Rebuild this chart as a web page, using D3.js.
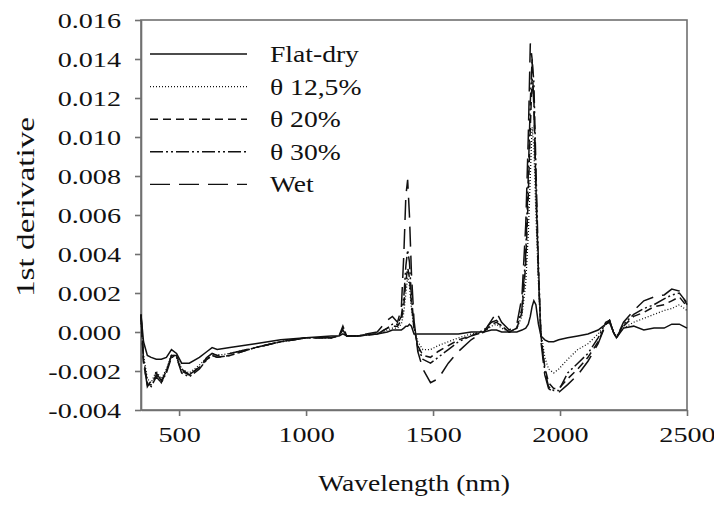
<!DOCTYPE html>
<html lang="en">
<head>
<meta charset="UTF-8" />
<title>1st derivative spectra</title>
<script src="https://cdn.jsdelivr.net/npm/d3@7/dist/d3.min.js"></script>
<style>
  body { margin: 0; background: #fff; }
  svg text { font-family: "Liberation Serif", "Times New Roman", serif; fill: #111; }
</style>
</head>
<body>
<svg id="chart"></svg>
<script>
// wavelength grid (nm) shared by all series
var wavelength = [350, 360, 375, 390, 410, 430, 450, 470, 490, 510, 540, 580, 610, 630, 650, 700, 800, 900, 1000,
  1100, 1130, 1145, 1160, 1200, 1280, 1320, 1340, 1360, 1375, 1385, 1393, 1400, 1407, 1415, 1425, 1440, 1460,
  1490, 1520, 1560, 1600, 1650, 1700, 1730, 1750, 1770, 1800, 1830, 1850, 1865, 1875, 1883, 1890, 1897, 1905,
  1915, 1925, 1940, 1955, 1975, 1995, 2030, 2070, 2110, 2150, 2180, 2195, 2210, 2222, 2250, 2290, 2330, 2370,
  2410, 2440, 2470, 2500];

var flatDry = [0.0009, -0.0005, -0.0012, -0.0013, -0.0014, -0.0014, -0.0013, -0.0009, -0.0011, -0.0016, -0.0016,
  -0.0013, -0.0010, -0.0008, -0.0009, -0.0008, -0.0006, -0.0004, -0.0003, -0.0002, -0.0002, -0.0001, -0.0002,
  -0.0002, -0.0001, 0.0000, 0.0001, 0.0001, 0.0001, 0.0002, 0.0003, 0.0003, 0.0004, 0.0003, -0.0001, -0.0001,
  -0.0001, -0.0001, -0.0001, -0.0001, -0.0001, 0.0000, 0.0000, 0.0001, 0.0001, 0.0000, 0.0000, 0.0000, 0.0001,
  0.0002, 0.0004, 0.0008, 0.0013, 0.0016, 0.0014, 0.0004, -0.0002, -0.0004, -0.0005, -0.0005, -0.0004, -0.0003,
  -0.0002, -0.0001, 0.0001, 0.0004, 0.0005, 0.0000, -0.0003, 0.0002, 0.0003, 0.0001, 0.0002, 0.0002, 0.0004,
  0.0004, 0.0002];

var theta125 = [0.0006, -0.0012, -0.0024, -0.0026, -0.0020, -0.0024, -0.0019, -0.0012, -0.0012, -0.0019, -0.0021,
  -0.0017, -0.0013, -0.0011, -0.0012, -0.0011, -0.0008, -0.0005, -0.0003, -0.0003, -0.0002, 0.0001, -0.0002,
  -0.0002, -0.0001, 0.0001, 0.0002, 0.0002, 0.0004, 0.0010, 0.0020, 0.0028, 0.0024, 0.0012, 0.0002, -0.0005,
  -0.0009, -0.0009, -0.0007, -0.0005, -0.0003, -0.0001, 0.0000, 0.0003, 0.0004, 0.0002, 0.0000, 0.0002, 0.0008,
  0.0025, 0.0050, 0.0080, 0.0105, 0.0095, 0.0060, 0.0025, 0.0000, -0.0013, -0.0019, -0.0021, -0.0019, -0.0014,
  -0.0009, -0.0006, -0.0001, 0.0004, 0.0005, 0.0000, -0.0002, 0.0002, 0.0005, 0.0007, 0.0009, 0.0011, 0.0012,
  0.0014, 0.0011];

var theta20 = [0.0008, -0.0016, -0.0027, -0.0027, -0.0022, -0.0026, -0.0020, -0.0012, -0.0013, -0.0020, -0.0022,
  -0.0018, -0.0014, -0.0012, -0.0013, -0.0012, -0.0008, -0.0005, -0.0003, -0.0003, -0.0002, 0.0002, -0.0002,
  -0.0002, -0.0001, 0.0002, 0.0003, 0.0003, 0.0006, 0.0014, 0.0026, 0.0033, 0.0028, 0.0014, 0.0002, -0.0007,
  -0.0012, -0.0013, -0.0010, -0.0007, -0.0004, -0.0002, 0.0000, 0.0004, 0.0005, 0.0003, 0.0000, 0.0002, 0.0010,
  0.0035, 0.0070, 0.0105, 0.0130, 0.0120, 0.0075, 0.0030, -0.0002, -0.0018, -0.0026, -0.0029, -0.0029, -0.0024,
  -0.0019, -0.0013, -0.0005, 0.0004, 0.0006, 0.0000, -0.0003, 0.0003, 0.0008, 0.0010, 0.0013, 0.0014, 0.0016,
  0.0018, 0.0013];

var theta30 = [0.0009, -0.0014, -0.0026, -0.0028, -0.0023, -0.0026, -0.0021, -0.0013, -0.0013, -0.0021, -0.0023,
  -0.0019, -0.0014, -0.0012, -0.0013, -0.0012, -0.0008, -0.0005, -0.0003, -0.0003, -0.0002, 0.0003, -0.0002,
  -0.0002, -0.0001, 0.0002, 0.0004, 0.0004, 0.0008, 0.0018, 0.0034, 0.0042, 0.0036, 0.0018, 0.0003, -0.0008,
  -0.0014, -0.0016, -0.0013, -0.0009, -0.0005, -0.0002, 0.0001, 0.0005, 0.0006, 0.0003, 0.0000, 0.0002, 0.0012,
  0.0040, 0.0080, 0.0118, 0.0140, 0.0128, 0.0085, 0.0035, -0.0002, -0.0020, -0.0028, -0.0030, -0.0030, -0.0021,
  -0.0016, -0.0011, -0.0003, 0.0005, 0.0006, 0.0000, -0.0003, 0.0004, 0.0009, 0.0012, 0.0014, 0.0017, 0.0019,
  0.0020, 0.0015];

var wet = [0.0009, -0.0015, -0.0028, -0.0025, -0.0021, -0.0025, -0.0020, -0.0012, -0.0012, -0.0019, -0.0022,
  -0.0018, -0.0013, -0.0011, -0.0012, -0.0011, -0.0008, -0.0005, -0.0003, -0.0003, -0.0002, 0.0001, -0.0002,
  -0.0002, 0.0000, 0.0006, 0.0008, 0.0005, 0.0012, 0.0040, 0.0070, 0.0078, 0.0060, 0.0030, 0.0006, -0.0010,
  -0.0019, -0.0026, -0.0024, -0.0016, -0.0010, -0.0004, 0.0000, 0.0006, 0.0010, 0.0005, 0.0001, 0.0004, 0.0018,
  0.0055, 0.0100, 0.0148, 0.0140, 0.0115, 0.0075, 0.0030, -0.0005, -0.0022, -0.0029, -0.0031, -0.0031, -0.0027,
  -0.0022, -0.0015, -0.0006, 0.0004, 0.0006, 0.0000, -0.0003, 0.0005, 0.0011, 0.0016, 0.0018, 0.0019, 0.0022,
  0.0021, 0.0014];

var seriesNames = ["Flat-dry", "\u03b8 12,5%", "\u03b8 20%", "\u03b8 30%", "Wet"];
var seriesValues = [flatDry, theta125, theta20, theta30, wet];
var dashes = [null, "1,2", "8,5", "13,3,2,3,2,3", "20,9"];

var xTicks = [500, 1000, 1500, 2000, 2500];
var yTicks = [-0.004, -0.002, 0, 0.002, 0.004, 0.006, 0.008, 0.010, 0.012, 0.014, 0.016];

var w = 714, h = 506,
  padL = 141, padR = 687, padT = 20, padB = 410,
  axisColor = "#707070";

// text in the source is drawn wider than normal Times
function widen(sel, k) {
  sel.each(function() {
    var n = this.getComputedTextLength();
    d3.select(this).attr("textLength", n * k).attr("lengthAdjust", "spacingAndGlyphs");
  });
}

var svg = d3.select("#chart").attr("width", w).attr("height", h);

var xScale = d3.scaleLinear().domain([350, 2500]).range([padL, padR]);
var yScale = d3.scaleLinear().domain([-0.004, 0.016]).range([padB, padT]);

// frame
svg.append("rect")
  .attr("x", padL).attr("y", padT)
  .attr("width", padR - padL).attr("height", padB - padT)
  .attr("fill", "none").attr("stroke", axisColor).attr("stroke-width", 1.6);

var xAxis = d3.axisBottom(xScale).tickValues(xTicks).tickSize(6).tickSizeOuter(0).tickPadding(10)
  .tickFormat(d3.format("d"));
var yAxis = d3.axisLeft(yScale).tickValues(yTicks).tickSize(6).tickSizeOuter(0).tickPadding(14)
  .tickFormat(function(d) { return d.toFixed(3); });

var gx = svg.append("g").attr("transform", "translate(0," + padB + ")").call(xAxis);
var gy = svg.append("g").attr("transform", "translate(" + padL + ",0)").call(yAxis);

[gx, gy].forEach(function(g) {
  g.select(".domain").attr("stroke", axisColor).attr("stroke-width", 1.6);
  g.selectAll(".tick line").attr("stroke", axisColor).attr("stroke-width", 1.6);
  g.selectAll(".tick text").attr("font-size", 22).attr("fill", "#111")
    .style("font-family", "'Liberation Serif', 'Times New Roman', serif");
  widen(g.selectAll(".tick text"), 1.28);
});

// curves
var line = d3.line()
  .x(function(d) { return xScale(d[0]); })
  .y(function(d) { return yScale(d[1]); });

seriesValues.forEach(function(vals, i) {
  var pts = wavelength.map(function(wl, j) { return [wl, vals[j]]; });
  svg.append("path")
    .datum(pts)
    .attr("fill", "none")
    .attr("stroke", "#111")
    .attr("stroke-width", i == 1 ? 1.3 : 1.5)
    .attr("stroke-dasharray", dashes[i])
    .attr("d", line);
});

// legend
var legend = svg.append("g");
seriesNames.forEach(function(name, i) {
  var yy = 54 + i * 32.6;
  legend.append("line")
    .attr("x1", 150).attr("x2", 247)
    .attr("y1", yy).attr("y2", yy)
    .attr("stroke", "#111")
    .attr("stroke-width", i == 1 ? 1.2 : 1.4)
    .attr("stroke-dasharray", dashes[i]);
  var t = legend.append("text")
    .attr("x", 270).attr("y", yy + 8)
    .attr("font-size", 23)
    .text(name);
  widen(t, 1.2);
});

// axis titles
var xt = svg.append("text")
  .attr("x", (padL + padR) / 2).attr("y", 491)
  .attr("text-anchor", "middle")
  .attr("font-size", 23)
  .text("Wavelength (nm)");
widen(xt, 1.2);

var yt = svg.append("text")
  .attr("transform", "translate(34,207) rotate(-90)")
  .attr("text-anchor", "middle")
  .attr("font-size", 26)
  .text("1st derivative");
widen(yt, 1.28);
</script>
</body>
</html>
